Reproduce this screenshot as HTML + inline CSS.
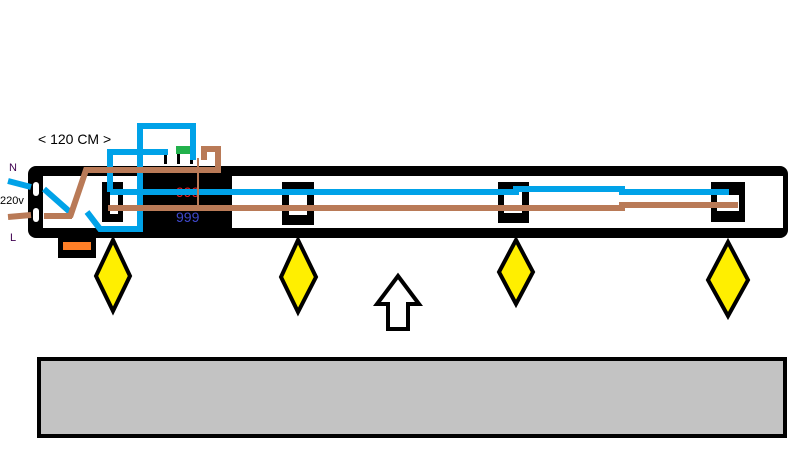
<!DOCTYPE html>
<html><head><style>body{margin:0;background:#fff}svg{display:block}</style></head><body>
<svg width="800" height="450" xmlns="http://www.w3.org/2000/svg">
<rect width="800" height="450" fill="#fff"/>
<!-- main bar -->
<rect x="28" y="166" width="760" height="72" fill="#000" rx="8"/>
<rect x="43" y="176" width="740" height="52" fill="#fff"/>
<rect x="138" y="176" width="94" height="52" fill="#000"/>
<rect x="102" y="182" width="21" height="40" fill="#000"/>
<rect x="110" y="190" width="8" height="24" fill="#fff"/>
<!-- plug end holes -->
<rect x="33" y="182" width="6" height="14" fill="#fff" rx="3"/>
<rect x="33" y="208" width="6" height="14" fill="#fff" rx="3"/>
<!-- sockets -->
<rect x="282" y="182" width="32" height="43" fill="#000"/>
<rect x="289" y="190" width="18" height="25" fill="#fff"/>
<rect x="498" y="182" width="31" height="41" fill="#000"/>
<rect x="504" y="190" width="18" height="23" fill="#fff"/>
<rect x="711" y="182" width="34" height="40" fill="#000"/>
<rect x="717" y="195" width="22" height="16" fill="#fff"/>
<!-- orange box -->
<rect x="58" y="235" width="38" height="23" fill="#000"/>
<rect x="63" y="242" width="28" height="8" fill="#ff7f27"/>
<!-- red/blue digits -->
<text x="176" y="197" font-family="Liberation Sans, sans-serif" font-size="14" fill="#ed1c24">999</text>
<text x="176" y="222" font-family="Liberation Sans, sans-serif" font-size="14" fill="#3f48cc">999</text>
<!-- posts and green -->
<rect x="164" y="150" width="3" height="14" fill="#000"/>
<rect x="177" y="150" width="3" height="14" fill="#000"/>
<rect x="190" y="150" width="3" height="14" fill="#000"/>
<rect x="176" y="146" width="15" height="8" fill="#22b14c"/>
<!-- blue wires -->
<g stroke="#00a2e8" stroke-width="6" fill="none">
<polyline points="110,192 516,192 516,189 622,189 622,192 729,192"/>
<polyline points="110,192 110,152 168,152"/>
<polyline points="140,232 140,126 193,126 193,160"/>
<polyline points="87,212 100,229 143,229"/>
<line x1="8" y1="181" x2="31" y2="187"/>
<line x1="44" y1="189" x2="70" y2="212"/>
</g>
<!-- brown wires -->
<g stroke="#b97a57" stroke-width="6" fill="none">
<polyline points="108,208 622,208 622,205 738,205"/>
<polyline points="70,217 86,170 218,170 218,149 204,149 204,160"/>
<line x1="44" y1="216" x2="72" y2="216"/>
<line x1="8" y1="217" x2="31" y2="215"/>
</g>
<line x1="198" y1="158" x2="198" y2="210" stroke="#b97a57" stroke-width="2"/>
<!-- diamonds -->
<g fill="#ffef00" stroke="#000" stroke-width="4">
<polygon points="113,240 130,276 113,311 96,276"/>
<polygon points="298,240 316,277 298,312 281,277"/>
<polygon points="516,240 533,272 516,304 499,272"/>
<polygon points="728,242 748,280 728,316 708,280"/>
</g>
<!-- up arrow -->
<polygon points="398,276 419,304 408,304 408,329 388,329 388,304 377,304" fill="#fff" stroke="#000" stroke-width="4"/>
<!-- gray rect -->
<rect x="39" y="359" width="746" height="77" fill="#c3c3c3" stroke="#000" stroke-width="4"/>
<!-- labels -->
<text x="38" y="144" font-family="Liberation Sans, sans-serif" font-size="14" fill="#000">&lt; 120 CM &gt;</text>
<text x="9" y="171" font-family="Liberation Sans, sans-serif" font-size="11" fill="#3f0050">N</text>
<text x="0" y="204" font-family="Liberation Sans, sans-serif" font-size="11" fill="#000">220v</text>
<text x="10" y="241" font-family="Liberation Sans, sans-serif" font-size="11" fill="#3f0050">L</text>
</svg>
</body></html>
